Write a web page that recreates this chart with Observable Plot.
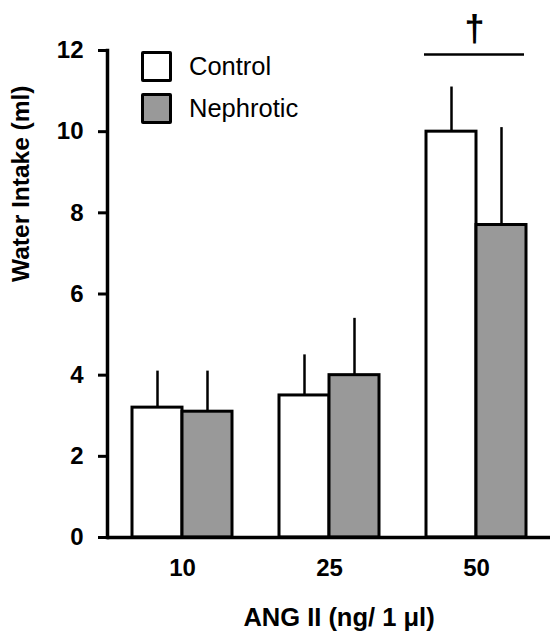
<!DOCTYPE html>
<html><head><meta charset="utf-8">
<script src="https://cdn.jsdelivr.net/npm/d3@7"></script>
<script src="https://cdn.jsdelivr.net/npm/@observablehq/plot@0.6"></script>
<style>
body{margin:0;background:#fff;}
#wrap{position:relative;width:558px;height:631px;font-family:"Liberation Sans",Arial,sans-serif;}
.leg{position:absolute;left:141px;display:flex;align-items:center;font-size:25.5px;color:#000;}
.sw{width:25px;height:25px;border:3px solid #000;border-radius:2px;margin-right:17px;box-sizing:content-box;}
</style></head><body><div id="wrap"></div>
<script>
const doses = ["10", "25", "50"];
const groups = ["Control", "Nephrotic"];
const groupColors = ["#ffffff", "#999999"];
const controlMean = [3.2, 3.5, 10.0];
const controlSE = [0.9, 1.0, 1.1];
const nephroticMean = [3.1, 4.0, 7.7];
const nephroticSE = [1.0, 1.4, 2.4];
const yTicks = [0, 2, 4, 6, 8, 10, 12];
const xLabel = "ANG II (ng/ 1 μl)";
const yLabel = "Water Intake (ml)";
const sigDoses = ["50"];
const sigLevel = 11.9;
const sigSymbol = "†";

const controlRows = doses.map((d, i) => ({dose: d, group: groups[0], mean: controlMean[i], se: controlSE[i]}));
const nephroticRows = doses.map((d, i) => ({dose: d, group: groups[1], mean: nephroticMean[i], se: nephroticSE[i]}));
const sigRows = sigDoses.map(d => ({dose: d, y: sigLevel, label: sigSymbol}));

const chart = Plot.plot({
  width: 558, height: 631,
  marginLeft: 107, marginRight: 8, marginTop: 50, marginBottom: 94,
  style: {fontFamily: "'Liberation Sans', Arial, sans-serif", fontSize: "24px", fontWeight: "bold", color: "#000", background: "transparent"},
  x: {domain: doses, paddingInner: 0.322, paddingOuter: 0.161},
  y: {domain: [0, 12]},
  marks: [
    Plot.barY(controlRows, {x: "dose", y: "mean", fill: groupColors[0], stroke: "#000", strokeWidth: 3, insetRight: 50}),
    Plot.barY(nephroticRows, {x: "dose", y: "mean", fill: groupColors[1], stroke: "#000", strokeWidth: 3, insetLeft: 50}),
    Plot.ruleX(controlRows, {x: "dose", y1: "mean", y2: d => d.mean + d.se, dx: -25, stroke: "#000", strokeWidth: 2.5}),
    Plot.ruleX(nephroticRows, {x: "dose", y1: "mean", y2: d => d.mean + d.se, dx: 25, stroke: "#000", strokeWidth: 2.5}),
    Plot.tickY(sigRows, {x: "dose", y: "y", stroke: "#000", strokeWidth: 2.5, dx: -2}),
    Plot.text(sigRows, {x: "dose", y: "y", text: "label", dy: -25, dx: -2, fontSize: 36, fontWeight: "bold"}),
    Plot.ruleY([0], {stroke: "#000", strokeWidth: 3.5}),
    Plot.frame({anchor: "left", stroke: "#000", strokeWidth: 3.5}),
    Plot.axisY({ticks: yTicks, tickSize: 9, tickPadding: 15, strokeWidth: 3, label: null, fontSize: 24}),
    Plot.text([yLabel], {frameAnchor: "left", rotate: -90, dx: -86, dy: -12, lineAnchor: "middle", fontSize: 24.5, fontWeight: "bold"}),
    Plot.axisX({tickSize: 0, tickPadding: 21, label: null, fontSize: 24}),
    Plot.text([xLabel], {frameAnchor: "bottom", dy: 88, dx: 10, lineAnchor: "bottom", fontSize: 25.5, fontWeight: "bold"})
  ]
});
const wrap = document.getElementById("wrap");
wrap.appendChild(chart);
groups.forEach((g, i) => {
  const row = document.createElement("div");
  row.className = "leg";
  row.style.top = (51 + i * 42) + "px";
  const sw = document.createElement("div");
  sw.className = "sw";
  sw.style.background = groupColors[i];
  row.appendChild(sw);
  const t = document.createElement("span");
  t.textContent = g;
  row.appendChild(t);
  wrap.appendChild(row);
});
</script></body></html>
